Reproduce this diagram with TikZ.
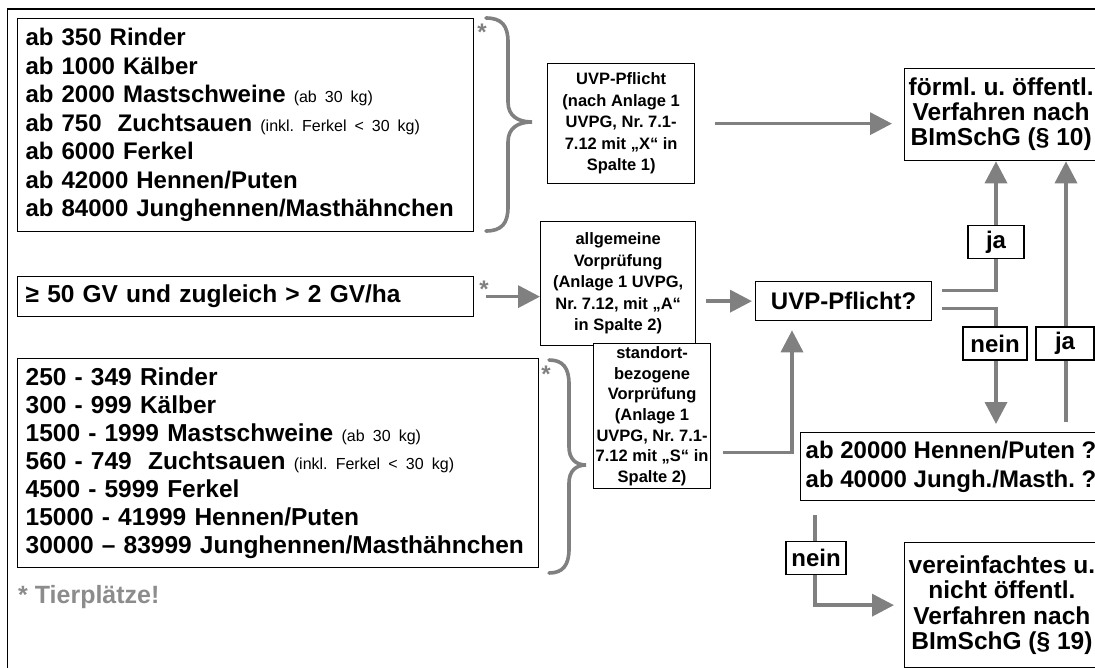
\documentclass[tikz,border=0pt]{standalone}
\usepackage{fontspec}
\setmainfont{Liberation Sans}
\usetikzlibrary{arrows.meta,positioning}
\definecolor{linegray}{RGB}{128,128,128}
\definecolor{notegray}{RGB}{140,140,140}
\newcommand{\bigtxt}{\fontsize{24}{28.5}\selectfont\bfseries}
\newcommand{\midtxt}{\fontsize{16.5}{21.5}\selectfont\bfseries}
\newcommand{\partxt}{\fontsize{16}{18}\selectfont\mdseries}

\begin{document}
\begin{tikzpicture}[x=1pt,y=-1pt,
  box/.style={draw,line width=1.3pt,fill=white,inner sep=0pt},
  listbox/.style={box,anchor=north west,align=left,font=\bigtxt,inner xsep=8pt},
  rulebox/.style={box,anchor=north west,align=center,font=\midtxt,inner xsep=2pt},
  endbox/.style={box,anchor=north west,align=center,font=\bigtxt,inner xsep=4pt},
  lbl/.style={box,font=\bigtxt,minimum height=33pt,inner xsep=5pt},
  conn/.style={draw=linegray,line width=3.6pt},
  arr/.style={conn,-{Triangle[length=22pt,width=22pt]}},
  brace/.style={draw=linegray,line width=3.6pt,line cap=round},
  star/.style={text=linegray,font=\fontsize{24}{24}\selectfont\bfseries,inner sep=0pt}]
  \clip (0,0) rectangle (1095,668);
  \frenchspacing
  \draw[line width=1.6pt] (7.5,700) -- (7.5,9) -- (1120,9);

  \node[listbox,text width=440pt,minimum height=213pt] (tierA) at (17,18) {%
    ab 350 Rinder\\
    ab 1000 Kälber\\
    ab 2000 Mastschweine {\partxt (ab 30 kg)}\\
    ab 750\ \ Zuchtsauen {\partxt (inkl. Ferkel < 30 kg)}\\
    ab 6000 Ferkel\\
    ab 42000 Hennen/Puten\\
    ab 84000 Junghennen/Masthähnchen};
  \node[listbox,text width=440pt,minimum height=40pt,font=\fontsize{24.5}{28}\selectfont\bfseries] (gvBox) at (17,276) {≥ 50 GV und zugleich > 2 GV/ha};
  \node[listbox,text width=505pt,minimum height=209pt,font=\fontsize{24.5}{28}\selectfont\bfseries] (tierS) at (17,358) {%
    250 - 349 Rinder\\
    300 - 999 Kälber\\
    1500 - 1999 Mastschweine {\partxt (ab 30 kg)}\\
    560 - 749\ \ Zuchtsauen {\partxt (inkl. Ferkel < 30 kg)}\\
    4500 - 5999 Ferkel\\
    15000 - 41999 Hennen/Puten\\
    30000 – 83999 Junghennen/Masthähnchen};

  \node[rulebox,minimum width=147pt,minimum height=120pt] (uvpX) at (547,63) {UVP-Pflicht\\(nach Anlage 1\\UVPG, Nr. 7.1-\\7.12 mit „X“ in\\Spalte 1)};
  \node[rulebox,minimum width=155pt,minimum height=124pt] (uvpA) at (540,221) {allgemeine\\Vorprüfung\\(Anlage 1 UVPG,\\Nr. 7.12, mit „A“\\in Spalte 2)};
  \node[rulebox,minimum width=114pt,minimum height=145pt,font=\fontsize{16.5}{20.7}\selectfont\bfseries] (uvpS) at (593,343) {standort-\\bezogene\\Vorprüfung\\(Anlage 1\\UVPG, Nr. 7.1-\\7.12 mit „S“ in\\Spalte 2)};

  \node[box,anchor=north west,font=\bigtxt,minimum width=176pt,minimum height=39pt] (frage) at (755,281) {UVP-Pflicht?};
  \node[endbox,minimum width=193pt,minimum height=92pt,font=\fontsize{24.5}{25}\selectfont\bfseries] (formal) at (904,68) {förml. u. öffentl.\\Verfahren nach\\BImSchG (§ 10)};
  \node[endbox,align=left,minimum width=300pt,minimum height=68pt,inner xsep=5pt] (gefl) at (800,432) {ab 20000 Hennen/Puten ?\\ab 40000 Jungh./Masth. ?};
  \node[endbox,minimum width=193pt,minimum height=125pt,font=\fontsize{24.5}{25.5}\selectfont\bfseries] (einfach) at (904,542) {vereinfachtes u.\\nicht öffentl.\\Verfahren nach\\BImSchG (§ 19)};

  \coordinate (colJa) at (996,0);
  \coordinate (colJb) at (1066,0);
  \coordinate (colS) at (792,0);
  \coordinate (colN) at (815,0);

  \draw[brace] (486,18) .. controls (502,18) and (508,26) .. (508,42) -- (508,102)
    .. controls (508,116) and (518,122) .. (532,122) .. controls (518,122) and (508,128) .. (508,142)
    -- (508,207) .. controls (508,223) and (502,231) .. (486,231);
  \draw[brace] (549,360) .. controls (563,360) and (569,368) .. (569,384) -- (569,447)
    .. controls (569,459) and (576,465) .. (586,465) .. controls (576,465) and (569,471) .. (569,483)
    -- (569,549) .. controls (569,565) and (563,573) .. (549,573);
  \node[star] (starA) at (482,32) {*};
  \node[star] (starD) at (484,289) {*};
  \node[star] (starS) at (546,374) {*};
  \node[anchor=west,text=notegray,font=\fontsize{25}{25}\selectfont\bfseries,inner sep=0pt] (note) at (18,597) {* Tierplätze!};

  \draw[arr,shorten <=20pt,shorten >=12pt] (uvpX.east) -- (uvpX.east -| formal.west);
  \draw[arr,shorten <=12pt] (gvBox.east) -- (gvBox.east -| uvpA.west);
  \draw[arr,shorten <=10pt,shorten >=3pt] (frage.west -| uvpA.east) -- (frage.west);
  \draw[arr,shorten <=10pt] ([yshift=10.5pt]frage.east) -| (colJa |- formal.south);
  \draw[arr,shorten <=10pt,shorten >=8pt] ([yshift=-7.5pt]frage.east) -| (colJa |- gefl.north);
  \draw[arr,shorten <=10pt] (colJb |- gefl.north) -- (colJb |- formal.south);
  \draw[arr,shorten <=12pt,shorten >=9pt] ([yshift=-36.5pt]uvpS.east) -| (colS |- frage.south);
  \draw[arr,shorten <=14pt,shorten >=10pt] (colN |- gefl.south) |- (einfach.west);

  \node[lbl,minimum width=56pt] (ja1) at (996,242) {ja};
  \node[lbl,minimum width=64pt] (nein1) at (995,343.5) {nein};
  \node[lbl,minimum width=58pt] (ja2) at (1065,343.5) {ja};
  \node[lbl,minimum width=60pt] (nein2) at (816,558) {nein};
\end{tikzpicture}
\end{document}
